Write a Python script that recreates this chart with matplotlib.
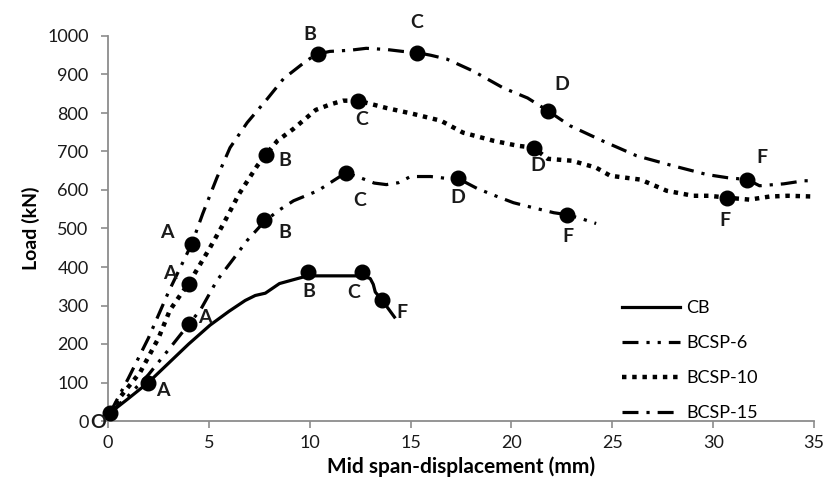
import matplotlib.pyplot as plt

plt.rcParams['font.family'] = ['Lato', 'DejaVu Sans']

# load-displacement curves
cb_x = [0.1, 1.0, 2.0, 3.0, 4.0, 5.06, 6.0, 6.8, 7.3, 7.8, 8.5, 9.4, 9.9, 11.0, 12.6, 13.0, 13.15, 13.25, 13.6, 14.2]
cb_y = [21, 58, 100, 150, 200, 249, 285, 313, 326, 332, 357, 370, 377, 377, 377, 370, 355, 335, 313, 270]

b6_x = [0.1, 1.0, 2.0, 3.0, 4.0, 4.6, 5.4, 6.2, 6.9, 7.7, 8.4, 9.2, 10.4, 11.2, 11.8, 12.5, 13.2, 13.8,
        14.4, 15.0, 16.0, 16.8, 17.35, 18.3, 19.2, 20.1, 21.0, 22.1, 22.75, 23.5, 24.2]
b6_y = [21, 65, 120, 185, 251, 290, 365, 420, 469, 515, 545, 572, 598, 625, 645, 632, 618, 614,
        619, 635, 635, 630, 630, 604, 585, 567, 555, 541, 536, 525, 513]

b10_x = [0.1, 0.6, 1.6, 2.5, 3.07, 3.57, 4.0, 5.0, 5.7, 6.5, 7.4, 7.83, 8.4, 9.2, 10.3, 11.0, 11.65, 12.4,
         13.8, 15.1, 16.5, 17.6, 19.1, 20.3, 21.1, 21.8, 23.0, 24.2, 24.9, 26.4, 27.7, 29.0, 29.8, 30.7,
         31.8, 32.8, 33.7, 35.0]
b10_y = [21, 62, 127, 215, 288, 326, 357, 445, 510, 590, 663, 692, 728, 759, 808, 822, 832, 832,
         813, 798, 780, 749, 728, 715, 710, 681, 676, 658, 637, 627, 598, 585, 585, 580,
         575, 583, 585, 583]

b15_x = [0.1, 1.0, 2.0, 3.0, 4.16, 4.7, 5.4, 6.05, 6.9, 7.9, 8.7, 9.7, 10.3, 11.0, 12.0, 12.8, 13.8, 14.6,
         15.3, 16.0, 16.8, 18.1, 19.6, 20.8, 21.8, 22.9, 24.5, 26.2, 28.0, 29.7, 30.7, 31.7, 32.3, 33.5,
         34.5, 35.0]
b15_y = [21, 110, 215, 335, 461, 539, 632, 710, 775, 837, 889, 930, 952, 960, 963, 968, 965, 960,
         957, 950, 940, 909, 865, 839, 806, 767, 728, 689, 663, 640, 632, 627, 611, 616,
         624, 624]

# stage points (O, A, B, C, D, F)
cb_pts = [('O', 0.1, 21), ('A', 1.98, 98), ('B', 9.9, 388), ('C', 12.6, 388), ('F', 13.6, 313)]
b6_pts = [('A', 4.0, 251), ('B', 7.73, 521), ('C', 11.8, 645), ('D', 17.35, 630), ('F', 22.75, 536)]
b10_pts = [('A', 4.0, 357), ('B', 7.83, 692), ('C', 12.4, 832), ('D', 21.1, 710), ('F', 30.7, 580)]
b15_pts = [('A', 4.16, 461), ('B', 10.4, 953), ('C', 15.3, 956), ('D', 21.8, 806), ('F', 31.7, 627)]

# label offsets in pixels from each point
cb_off = [(-12, -10), (15, -7), (1, -20), (-8, -21), (20, -12)]
b6_off = [(16, 7), (21, -12), (14, -28), (0, -19), (1, -22)]
b10_off = [(-19, 10), (19, -6), (4, -19), (4, -18), (-2, -23)]
b15_off = [(-25, 11), (-8, 20), (0, 30), (14, 26), (15, 22)]

fig = plt.figure(figsize=(8.26, 4.86), dpi=100)
ax = fig.add_axes([108 / 826, 1 - 421 / 486, 706 / 826, 385 / 486])

k = '#000000'
ax.plot(cb_x, cb_y, color=k, lw=2.3, label='CB')
ax.plot(b6_x, b6_y, color=k, lw=2.3, ls=(0, (5, 2.5, 1, 2.5, 1, 2.5)), label='BCSP-6')
ax.plot(b10_x, b10_y, color=k, lw=3.2, ls=(0, (1, 1.3)), label='BCSP-10')
ax.plot(b15_x, b15_y, color=k, lw=2.3, ls=(0, (5, 2.5, 1, 2.5)), label='BCSP-15')

for pts, offs in [(cb_pts, cb_off), (b6_pts, b6_off), (b10_pts, b10_off), (b15_pts, b15_off)]:
    for (name, x, y), (dx, dy) in zip(pts, offs):
        ax.plot(x, y, 'o', color=k, ms=10.5, clip_on=False, zorder=3)
        ax.annotate(name, (x, y), xytext=(dx, dy), textcoords='offset pixels',
                    ha='center', va='center', fontsize=14, fontweight='bold', color='#1a1a1a',
                    zorder=4)

ax.set_xlim(0, 35)
ax.set_ylim(0, 1000)
ax.set_xticks(range(0, 36, 5))
ax.set_yticks(range(0, 1001, 100))

for s in ['top', 'right']:
    ax.spines[s].set_visible(False)
for s in ['left', 'bottom']:
    ax.spines[s].set_color('#8c8c8c')
    ax.spines[s].set_linewidth(1.3)
ax.tick_params(direction='out', length=5, width=1.2, color='#8c8c8c',
               labelsize=13, labelcolor='#1a1a1a', pad=5)
ax.tick_params(axis='y', pad=9)

ax.set_xlabel('Mid span-displacement (mm)', fontsize=15, fontweight='bold', labelpad=4)
ax.set_ylabel('Load (kN)', fontsize=14, fontweight='bold', labelpad=5)

ax.legend(loc='upper left', bbox_to_anchor=(622 / 826, 1 - 300 / 486), bbox_transform=fig.transFigure,
          frameon=False, fontsize=13, handlelength=3.2, handletextpad=0.35, labelspacing=1.05,
          borderpad=0, borderaxespad=0)

fig.savefig('out.png', dpi=100)
